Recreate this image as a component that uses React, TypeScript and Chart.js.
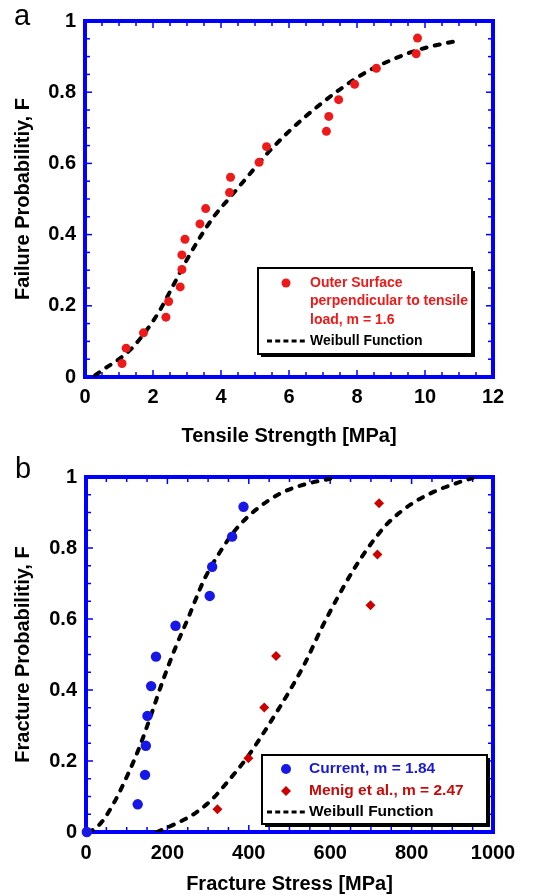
import React, { useEffect, useRef } from "react";
import { Chart, registerables } from "chart.js";

Chart.register(...registerables);

const FONT = "'Liberation Sans', Arial, Helvetica, sans-serif";
const BLUE = "#0000ff";

// ---------- Panel a ----------
const aStrength = [1.09, 1.21, 1.72, 2.38, 2.46, 2.8, 2.85, 2.85, 2.94, 3.38, 3.55, 4.25, 4.28, 5.12, 5.34, 7.1, 7.17, 7.46, 7.93, 8.57, 9.74, 9.78];
const aProb = [0.038, 0.081, 0.124, 0.168, 0.212, 0.253, 0.302, 0.343, 0.387, 0.43, 0.473, 0.518, 0.561, 0.603, 0.647, 0.69, 0.732, 0.779, 0.822, 0.867, 0.908, 0.952];
const aFitStrength = [0.3, 0.6, 1.0, 1.4, 1.8, 2.2, 2.6, 3.0, 3.4, 3.8, 4.25, 4.8, 5.4, 6.0, 6.5, 7.0, 7.6, 8.3, 9.0, 9.8, 11.06];
const aFitProb = [0.005, 0.025, 0.05, 0.083, 0.13, 0.187, 0.258, 0.33, 0.395, 0.452, 0.503, 0.565, 0.632, 0.69, 0.733, 0.772, 0.815, 0.858, 0.89, 0.919, 0.947];
const aXTicks = [0, 2, 4, 6, 8, 10, 12];
const aYTicks = [0, 0.2, 0.4, 0.6, 0.8, 1];
const aSeriesLabel = ["Outer Surface", "perpendicular to tensile", "load, m = 1.6"];

// ---------- Panel b ----------
const bCurrentStress = [2, 127, 145, 147, 151, 160, 172, 220, 304, 310, 359, 387];
const bCurrentProb = [0, 0.078, 0.161, 0.243, 0.327, 0.411, 0.494, 0.581, 0.665, 0.747, 0.832, 0.916];
const bMenigStress = [323, 399, 438, 467, 699, 716, 720];
const bMenigProb = [0.064, 0.208, 0.351, 0.496, 0.639, 0.782, 0.926];
const bFitCurrentStress = [5, 20, 40, 70, 100, 130, 160, 190, 220, 250, 290, 330, 370, 420, 480, 540, 600];
const bFitCurrentProb = [0, 0.008, 0.03, 0.085, 0.155, 0.235, 0.33, 0.43, 0.52, 0.6, 0.71, 0.79, 0.855, 0.91, 0.955, 0.98, 0.995];
const bFitMenigStress = [174, 218, 267, 308, 349, 394, 430, 467, 504, 540, 577, 618, 658, 699, 740, 797, 854, 919, 950];
const bFitMenigProb = [0, 0.022, 0.052, 0.09, 0.143, 0.207, 0.268, 0.335, 0.405, 0.48, 0.57, 0.66, 0.74, 0.81, 0.868, 0.922, 0.958, 0.986, 0.997];
const bXTicks = [0, 200, 400, 600, 800, 1000];
const bYTicks = [0, 0.2, 0.4, 0.6, 0.8, 1];
const bCurrentLabel = "Current, m = 1.84";
const bMenigLabel = "Menig et al., m = 2.47";

const fitLabel = "Weibull Function";

const toPts = (xs: number[], ys: number[]) => xs.map((x, i) => ({ x, y: ys[i] }));

const framePlugin = {
  id: "frame",
  beforeDatasetsDraw(chart: any, _args: any, opts: any) {
    const { ctx, chartArea: a, scales } = chart;
    const xs = scales.x;
    const ys = scales.y;
    ctx.save();
    ctx.strokeStyle = BLUE;
    ctx.lineWidth = 1.5;
    const seg = (x1: number, y1: number, x2: number, y2: number) => {
      ctx.beginPath();
      ctx.moveTo(x1, y1);
      ctx.lineTo(x2, y2);
      ctx.stroke();
    };
    const nx = Math.round((xs.max - xs.min) / opts.minorX);
    for (let i = 0; i <= nx; i++) {
      const v = xs.min + i * opts.minorX;
      const px = xs.getPixelForValue(v);
      const major = Math.abs(v / opts.majorX - Math.round(v / opts.majorX)) < 1e-6;
      const len = major ? 7 : 5;
      seg(px, a.bottom, px, a.bottom - len);
      seg(px, a.top, px, a.top + len);
    }
    const ny = Math.round((ys.max - ys.min) / opts.minorY);
    for (let i = 0; i <= ny; i++) {
      const v = ys.min + i * opts.minorY;
      const py = ys.getPixelForValue(v);
      const major = Math.abs(v / opts.majorY - Math.round(v / opts.majorY)) < 1e-6;
      const len = major ? 7 : 5;
      seg(a.left, py, a.left + len, py);
      seg(a.right, py, a.right - len, py);
    }
    ctx.lineWidth = 4;
    ctx.strokeRect(a.left, a.top, a.right - a.left, a.bottom - a.top);
    ctx.restore();
  },
  afterDraw(chart: any, _args: any, opts: any) {
    const { ctx } = chart;
    ctx.save();
    ctx.fillStyle = "#000";
    ctx.font = `29px ${FONT}`;
    ctx.textBaseline = "alphabetic";
    ctx.textAlign = "left";
    ctx.fillText(opts.letter, opts.letterX, opts.letterY);

    const L = opts.legend;
    ctx.fillStyle = "#000";
    ctx.fillRect(L.x + 3, L.y + 3, L.w, L.h);
    ctx.fillStyle = "#fff";
    ctx.fillRect(L.x, L.y, L.w, L.h);
    ctx.strokeStyle = "#000";
    ctx.lineWidth = 2;
    ctx.strokeRect(L.x, L.y, L.w, L.h);

    ctx.font = `bold ${L.fontSize}px ${FONT}`;
    ctx.textBaseline = "middle";
    for (const item of L.items) {
      if (item.marker === "circle") {
        ctx.fillStyle = item.color;
        ctx.beginPath();
        ctx.arc(L.markerX, item.y, item.r, 0, Math.PI * 2);
        ctx.fill();
      } else if (item.marker === "diamond") {
        ctx.fillStyle = item.color;
        ctx.beginPath();
        ctx.moveTo(L.markerX, item.y - item.r);
        ctx.lineTo(L.markerX + item.r, item.y);
        ctx.lineTo(L.markerX, item.y + item.r);
        ctx.lineTo(L.markerX - item.r, item.y);
        ctx.closePath();
        ctx.fill();
      } else if (item.marker === "dash") {
        ctx.strokeStyle = "#000";
        ctx.lineWidth = 3;
        ctx.setLineDash([5, 3.2]);
        ctx.beginPath();
        ctx.moveTo(L.dashX1, item.y);
        ctx.lineTo(L.dashX2, item.y);
        ctx.stroke();
        ctx.setLineDash([]);
      }
      ctx.fillStyle = item.textColor;
      const lines: string[] = Array.isArray(item.text) ? item.text : [item.text];
      lines.forEach((t, k) => ctx.fillText(t, L.textX, item.y + k * L.lineGap));
    }
    ctx.restore();
  },
};

const tickFont = { family: FONT, size: 20, weight: "bold" as const };
const titleFont = { family: FONT, size: 20, weight: "bold" as const };

function makeScales(opts: {
  xMin: number; xMax: number; xTicks: number[]; yTicks: number[];
  xTitle: string; yTitle: string; yWidth: number; xHeight: number;
  xPad: number; xTitleBottom: number; yTitleTop: number;
}) {
  return {
    x: {
      type: "linear" as const,
      min: opts.xMin,
      max: opts.xMax,
      afterBuildTicks: (s: any) => { s.ticks = opts.xTicks.map((v) => ({ value: v })); },
      afterFit: (s: any) => { s.height = opts.xHeight; },
      grid: { display: false, drawTicks: false },
      border: { display: false },
      ticks: { font: tickFont, color: "#000", padding: opts.xPad, maxRotation: 0, autoSkip: false, callback: (v: any) => String(v) },
      title: { display: true, text: opts.xTitle, font: titleFont, color: "#000", padding: { top: 0, bottom: opts.xTitleBottom } },
    },
    y: {
      type: "linear" as const,
      min: 0,
      max: 1,
      afterBuildTicks: (s: any) => { s.ticks = opts.yTicks.map((v) => ({ value: v })); },
      afterFit: (s: any) => { s.width = opts.yWidth; },
      grid: { display: false, drawTicks: false },
      border: { display: false },
      ticks: { font: tickFont, color: "#000", padding: 9, autoSkip: false, callback: (v: any) => String(Math.round(v * 10) / 10) },
      title: { display: true, text: opts.yTitle, font: titleFont, color: "#000", padding: { top: opts.yTitleTop, bottom: 0 } },
    },
  };
}

export default function App() {
  const refA = useRef<HTMLCanvasElement>(null);
  const refB = useRef<HTMLCanvasElement>(null);

  useEffect(() => {
    const fitStyle = {
      showLine: true,
      pointRadius: 0,
      borderColor: "#000",
      backgroundColor: "#000",
      borderWidth: 4,
      borderDash: [5, 8.5],
      borderCapStyle: "round" as const,
      cubicInterpolationMode: "monotone" as const,
    };

    const chartA = new Chart(refA.current!, {
      type: "scatter",
      data: {
        datasets: [
          {
            label: aSeriesLabel.join(" "),
            data: toPts(aStrength, aProb),
            pointRadius: 4.5,
            pointHoverRadius: 4.5,
            backgroundColor: "#ee1a1a",
            borderWidth: 0,
            clip: false as any,
          },
          { label: fitLabel, data: toPts(aFitStrength, aFitProb), ...fitStyle },
        ],
      },
      options: {
        responsive: false,
        animation: false,
        events: [],
        layout: { padding: { top: 18, right: 56, left: 0, bottom: 0 } },
        scales: makeScales({
          xMin: 0, xMax: 12, xTicks: aXTicks, yTicks: aYTicks,
          xTitle: "Tensile Strength [MPa]", yTitle: "Failure Probabilitiy, F",
          yWidth: 85, xHeight: 450 - 377, xPad: 8, xTitleBottom: 2, yTitleTop: 11,
        }),
        plugins: {
          legend: { display: false },
          tooltip: { enabled: false },
          frame: {
            minorX: 0.5, majorX: 2, minorY: 0.05, majorY: 0.2,
            letter: "a", letterX: 14, letterY: 25,
            legend: {
              x: 258, y: 268, w: 214, h: 86, fontSize: 14,
              markerX: 286, textX: 310, dashX1: 267, dashX2: 308, lineGap: 18.5,
              items: [
                { marker: "circle", r: 4.5, color: "#ee1a1a", textColor: "#ee1a1a", y: 283, text: aSeriesLabel },
                { marker: "dash", textColor: "#000", y: 341, text: fitLabel },
              ],
            },
          },
        } as any,
      },
      plugins: [framePlugin],
    });

    const chartB = new Chart(refB.current!, {
      type: "scatter",
      data: {
        datasets: [
          {
            label: bCurrentLabel,
            data: toPts(bCurrentStress, bCurrentProb),
            pointRadius: 5.2,
            pointHoverRadius: 5.2,
            backgroundColor: "#1717e8",
            borderWidth: 0,
            clip: false as any,
          },
          {
            label: bMenigLabel,
            data: toPts(bMenigStress, bMenigProb),
            pointStyle: "rectRot",
            pointRadius: 5,
            pointHoverRadius: 5,
            backgroundColor: "#cc0000",
            borderWidth: 0,
            clip: false as any,
          },
          { label: fitLabel, data: toPts(bFitCurrentStress, bFitCurrentProb), ...fitStyle },
          { label: fitLabel, data: toPts(bFitMenigStress, bFitMenigProb), ...fitStyle },
        ],
      },
      options: {
        responsive: false,
        animation: false,
        events: [],
        layout: { padding: { top: 27, right: 56, left: 0, bottom: 0 } },
        scales: makeScales({
          xMin: 0, xMax: 1000, xTicks: bXTicks, yTicks: bYTicks,
          xTitle: "Fracture Stress [MPa]", yTitle: "Fracture Probabilitiy, F",
          yWidth: 86, xHeight: 446 - 382, xPad: 9, xTitleBottom: 0, yTitleTop: 11,
        }),
        plugins: {
          legend: { display: false },
          tooltip: { enabled: false },
          frame: {
            minorX: 50, majorX: 200, minorY: 0.05, majorY: 0.2,
            letter: "b", letterX: 15, letterY: 28,
            legend: {
              x: 262, y: 305, w: 225, h: 69, fontSize: 15.5,
              markerX: 286, textX: 309, dashX1: 267, dashX2: 308, lineGap: 18,
              items: [
                { marker: "circle", r: 5, color: "#1717e8", textColor: "#1a1ad2", y: 319, text: bCurrentLabel },
                { marker: "diamond", r: 5, color: "#cc0000", textColor: "#c80a0a", y: 341, text: bMenigLabel },
                { marker: "dash", textColor: "#000", y: 362, text: fitLabel },
              ],
            },
          },
        } as any,
      },
      plugins: [framePlugin],
    });

    return () => {
      chartA.destroy();
      chartB.destroy();
    };
  }, []);

  return (
    <div style={{ position: "absolute", left: 0, top: 0, width: 549, height: 896, background: "#fff" }}>
      <canvas ref={refA} width={549} height={450} style={{ position: "absolute", left: 0, top: 0, display: "block" }} />
      <canvas ref={refB} width={549} height={446} style={{ position: "absolute", left: 0, top: 450, display: "block" }} />
    </div>
  );
}
